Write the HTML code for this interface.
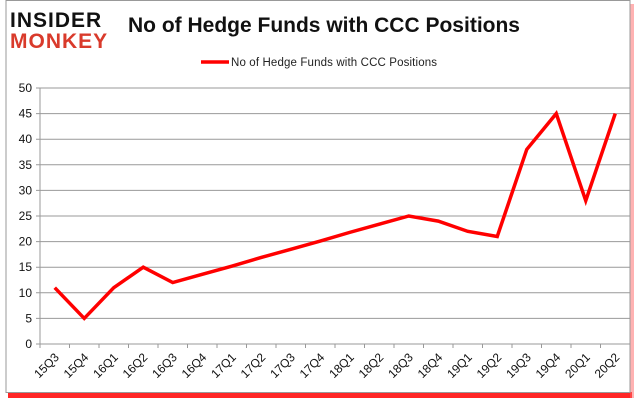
<!DOCTYPE html>
<html><head><meta charset="utf-8"><style>
body{margin:0;background:#fff;width:635px;height:405px;overflow:hidden;font-family:"Liberation Sans",sans-serif}
</style></head><body>
<svg width="635" height="405">
<rect x="8" y="392" width="624" height="6" fill="#f00" opacity="0.85"/>
<rect x="630" y="4" width="4" height="394" fill="#f66" opacity="0.5"/>
<rect x="6" y="0.5" width="624" height="392" fill="#fff" stroke="#999"/>
<g>
<text x="10" y="27" font-size="21" font-weight="bold" fill="#111" letter-spacing="1">INSIDER</text>
<text x="10" y="48" font-size="21" font-weight="bold" fill="#d93a2b" letter-spacing="1">MONKEY</text>
</g>
<text x="128" y="32" font-size="21" font-weight="bold" fill="#111">No of Hedge Funds with CCC Positions</text>
<g>
<line x1="201" y1="62" x2="229" y2="62" stroke="#f00" stroke-width="3.5"/>
<text x="231" y="66" font-size="11.5" fill="#222" textLength="206">No of Hedge Funds with CCC Positions</text>
</g>
<g id="grid"></g><g id="axes"></g>
<polyline id="series" fill="none" stroke="#f00" stroke-width="3.5" stroke-linejoin="miter"/>
</svg>
<script>
const categories=["15Q3","15Q4","16Q1","16Q2","16Q3","16Q4","17Q1","17Q2","17Q3","17Q4","18Q1","18Q2","18Q3","18Q4","19Q1","19Q2","19Q3","19Q4","20Q1","20Q2"];
const values=[11,5,11,15,12,13.6,15.2,16.9,18.5,20.1,21.8,23.4,25,24,22,21,38,45,28,45];
const yTicks=[0,5,10,15,20,25,30,35,40,45,50];
const L=40,R=630,T=88,B=344,ymax=50;
const w=(R-L)/categories.length;
const xs=i=>L+(i+0.5)*w, ys=v=>B-(v/ymax)*(B-T);
const ns="http://www.w3.org/2000/svg";
const grid=document.getElementById('grid'),axes=document.getElementById('axes');
function mk(t,a,p){const e=document.createElementNS(ns,t);for(const k in a)e.setAttribute(k,a[k]);p.appendChild(e);return e;}
yTicks.forEach(v=>{
 const g=mk('line',{x1:L-4,x2:R,y1:ys(v),y2:ys(v),stroke:'#999','stroke-width':1},grid);
 
 
 const t=mk('text',{x:L-8,y:ys(v)+4,'text-anchor':'end','font-size':12,fill:'#111'},axes);
 t.textContent=v;
 
 
});
const ya=mk('line',{x1:L,x2:L,y1:T,y2:B,stroke:'#999'},axes);


categories.forEach((c,i)=>{
 const tk=mk('line',{x1:L+i*w,x2:L+i*w,y1:B,y2:B+4,stroke:'#999'},axes);
 
 
 const x=xs(i)+5,y=B+14;
 const t=mk('text',{x:x,y:y,'text-anchor':'end','font-size':12,fill:'#111',transform:`rotate(-45 ${x} ${y})`},axes);
 t.textContent=c;
 
 
});
const tk=mk('line',{x1:R,x2:R,y1:B,y2:B+4,stroke:'#999'},axes);


document.getElementById('series').setAttribute('points',values.map((v,i)=>xs(i)+','+ys(v)).join(' '));
</script>
</body></html>
